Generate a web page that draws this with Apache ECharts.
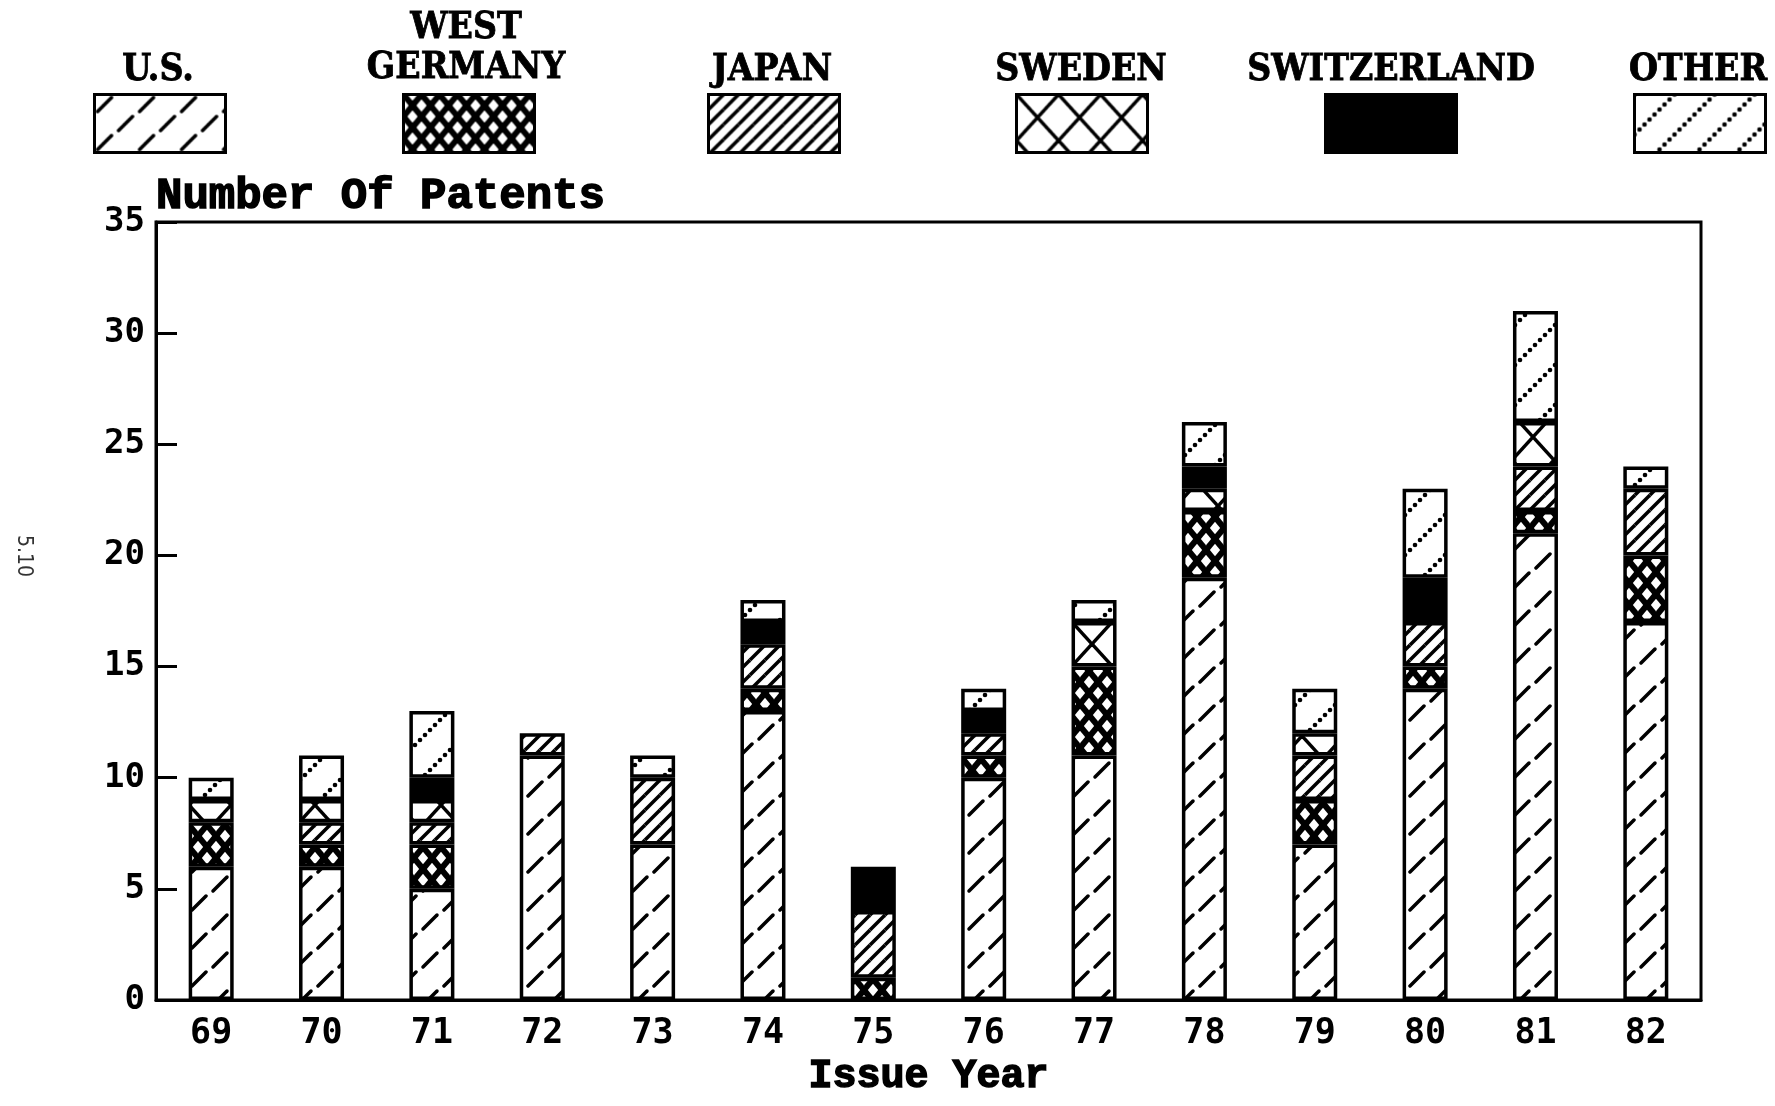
<!DOCTYPE html>
<html>
<head>
<meta charset="utf-8">
<script src="https://cdn.jsdelivr.net/npm/echarts@6/dist/echarts.min.js"></script>
<style>
  html, body { margin: 0; padding: 0; background: #fff; }
  #chart { width: 1775px; height: 1106px; }
</style>
</head>
<body>
<div id="chart"></div>
<script>
// issue years and patents per country (bottom to top of each stack)
const years = ['69', '70', '71', '72', '73', '74', '75', '76', '77', '78', '79', '80', '81', '82'];
const us          = [6, 6, 5, 11, 7, 13, 0, 10, 11, 19, 7, 14, 21, 17];
const westGermany = [2, 1, 2, 0, 0, 1, 1, 1, 4, 3, 2, 1, 1, 3];
const japan       = [0, 1, 1, 1, 3, 2, 3, 1, 0, 0, 2, 2, 2, 3];
const sweden      = [1, 1, 1, 0, 0, 0, 0, 0, 2, 1, 1, 0, 2, 0];
const switzerland = [0, 0, 1, 0, 0, 1, 2, 1, 0, 1, 0, 2, 0, 0];
const other       = [1, 2, 3, 0, 1, 1, 0, 1, 1, 2, 2, 4, 5, 1];
const yTicks = [0, 35, 5]; // min, max, step

const MONO = '"Liberation Mono", "DejaVu Sans Mono", monospace';
const SANSMONO = '"DejaVu Sans Mono", monospace';

// hatch tiles drawn on a small canvas, repeated as fill
function tile(w, h, paint) {
  const c = document.createElement('canvas');
  c.width = w;
  c.height = h;
  const g = c.getContext('2d');
  g.fillStyle = '#fff';
  g.fillRect(0, 0, w, h);
  g.strokeStyle = '#000';
  g.fillStyle = '#000';
  for (const ox of [-w, 0, w]) {
    for (const oy of [-h, 0, h]) {
      g.save();
      g.translate(ox, oy);
      paint(g, w, h);
      g.restore();
    }
  }
  return { image: c, repeat: 'repeat' };
}
function seg(g, x1, y1, x2, y2) {
  g.beginPath();
  g.moveTo(x1, y1);
  g.lineTo(x2, y2);
  g.stroke();
}

const usFill = tile(42, 38, (g) => {
  g.lineWidth = 3.5;
  g.lineCap = 'round';
  seg(g, 3, 17, 17, 3);
  seg(g, 24, 36, 38, 22);
});
const wgFill = tile(18, 22, (g, w, h) => {
  g.lineWidth = 6;
  seg(g, 0, 0, w, h);
  seg(g, w, 0, 0, h);
});
const jpFill = tile(15, 15, (g, w, h) => {
  g.lineWidth = 3.5;
  seg(g, 0, h, w, 0);
});
const swFill = tile(42, 46, (g, w, h) => {
  g.lineWidth = 3.5;
  seg(g, 0, 0, w, h);
  seg(g, w, 0, 0, h);
});
const otFill = tile(40, 40, (g, w, h) => {
  for (let i = 0; i < 8; i++) {
    g.beginPath();
    g.arc(i * w / 8, h - i * h / 8, 2.3, 0, Math.PI * 2);
    g.fill();
  }
});

const groups = [
  { name: 'U.S.', data: us, fill: usFill, label: 'U.S.', x: 158, box: 93 },
  { name: 'WEST GERMANY', data: westGermany, fill: wgFill, label: 'WEST\nGERMANY', x: 466, box: 402 },
  { name: 'JAPAN', data: japan, fill: jpFill, label: 'JAPAN', x: 772, box: 707 },
  { name: 'SWEDEN', data: sweden, fill: swFill, label: 'SWEDEN', x: 1081, box: 1015 },
  { name: 'SWITZERLAND', data: switzerland, fill: '#000', label: 'SWITZERLAND', x: 1391, box: 1324 },
  { name: 'OTHER', data: other, fill: otFill, label: 'OTHER', x: 1698, box: 1633 },
];

const chart = echarts.init(document.getElementById('chart'));

const legendLabels = groups.map((s) => ({
  type: 'text',
  x: s.x,
  y: s.label.indexOf('\n') >= 0 ? 8 : 50,
  style: {
    text: s.label,
    fill: '#000',
    font: 'condensed bold 37px "DejaVu Serif", "Liberation Serif", serif',
    align: 'center',
    lineHeight: 40,
    stroke: '#000',
    lineWidth: 0.8,
  },
}));

const option = {
  animation: false,
  backgroundColor: '#fff',
  grid: {
    left: 156,
    right: 74,
    top: 222,
    bottom: 106,
    show: true,
    borderColor: '#000',
    borderWidth: 3,
  },
  legend: groups.map((s) => ({
    data: [s.name],
    left: s.box,
    top: 93,
    padding: 0,
    icon: 'rect',
    itemWidth: 131,
    itemHeight: 58,
    selectedMode: false,
    formatter: () => '',
    itemStyle: { borderColor: '#000', borderWidth: 3 },
  })),
  graphic: legendLabels.concat([
    {
      type: 'text',
      x: 34,
      y: 535,
      rotation: -Math.PI / 2,
      style: { text: '5.10', fill: '#333', font: '21px "DejaVu Sans Condensed", "DejaVu Sans", sans-serif' },
    },
  ]),
  xAxis: {
    type: 'category',
    data: years,
    name: 'Issue Year',
    nameLocation: 'middle',
    nameGap: 56,
    nameTextStyle: {
      color: '#000',
      fontFamily: MONO,
      fontWeight: 'bold',
      fontSize: 40,
      textBorderColor: '#000',
      textBorderWidth: 1.5,
    },
    axisLine: { lineStyle: { color: '#000', width: 3 } },
    axisTick: { show: false },
    axisLabel: {
      color: '#000',
      fontFamily: SANSMONO,
      fontWeight: 'bold',
      fontSize: 35,
      margin: 16,
    },
    splitLine: { show: false },
  },
  yAxis: {
    type: 'value',
    min: yTicks[0],
    max: yTicks[1],
    interval: yTicks[2],
    name: 'Number Of Patents',
    nameLocation: 'end',
    nameGap: 3,
    nameTextStyle: {
      color: '#000',
      fontFamily: MONO,
      fontWeight: 'bold',
      fontSize: 44,
      align: 'left',
      verticalAlign: 'bottom',
      textBorderColor: '#000',
      textBorderWidth: 1.5,
    },
    axisLine: { show: true, lineStyle: { color: '#000', width: 3 } },
    axisTick: { show: true, inside: true, length: 21, lineStyle: { color: '#000', width: 3 } },
    axisLabel: {
      color: '#000',
      fontFamily: SANSMONO,
      fontWeight: 'bold',
      fontSize: 34,
      margin: 11,
    },
    splitLine: { show: false },
  },
  series: groups.map((s) => ({
    name: s.name,
    type: 'bar',
    stack: 'patents',
    barWidth: 45,
    data: s.data.map((v) => (v === 0 ? '-' : v)),
    itemStyle: { color: s.fill, borderColor: '#000', borderWidth: 3.5 },
    emphasis: { disabled: true },
  })),
};

chart.setOption(option);
</script>
</body>
</html>
